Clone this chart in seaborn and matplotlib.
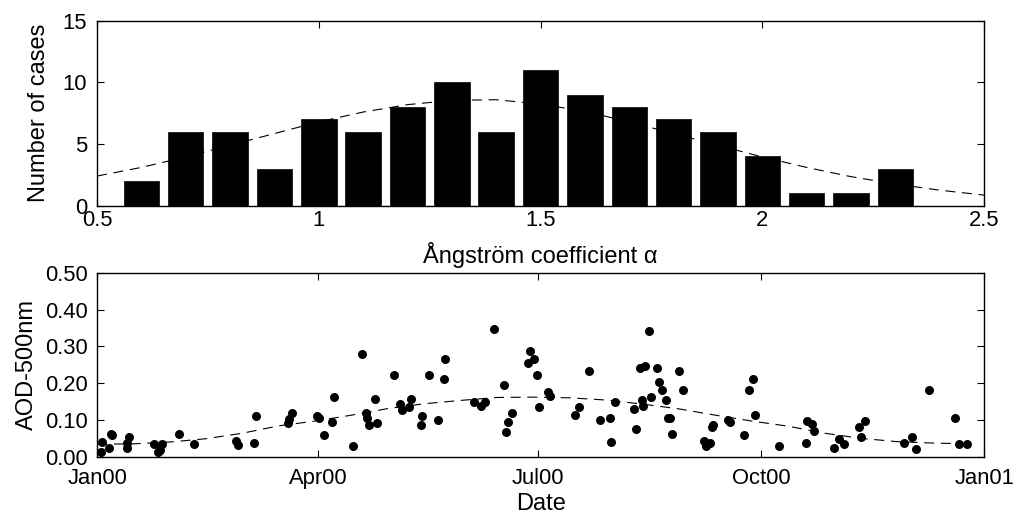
import matplotlib
matplotlib.use("Agg")
import matplotlib.pyplot as plt
import matplotlib.dates as mdates
import numpy as np
import pandas as pd
import seaborn as sns

# Histogram of the Angstrom coefficient (bin centres and counts)
alpha_centers = [0.6, 0.7, 0.8, 0.9, 1.0, 1.1, 1.2, 1.3, 1.4, 1.5, 1.6, 1.7, 1.8, 1.9, 2.0, 2.1, 2.2, 2.3]
alpha_counts = [2, 6, 6, 3, 7, 6, 8, 10, 6, 11, 9, 8, 7, 6, 4, 1, 1, 3]

# fitted curve over the histogram
fit_x = [0.5, 0.6, 0.7, 0.8, 0.9, 1.0, 1.1, 1.2, 1.3, 1.4, 1.5, 1.6, 1.7, 1.8, 1.9, 2.0, 2.1, 2.2, 2.3, 2.4, 2.5]
fit_y = [2.4, 3.1, 3.95, 4.9, 5.85, 6.8, 7.6, 8.2, 8.55, 8.6, 8.25, 7.65, 6.8, 5.85, 4.9, 3.95, 3.1, 2.35, 1.75, 1.25, 0.85]

# AOD at 500 nm, days since 1 Jan 2000
aod_day = [1.5, 2.1, 4.8, 5.7, 6.2, 12.1, 13.2, 12.4, 23.4, 26.6, 25.2, 25.8, 33.7, 40.0,
           57.1, 57.9, 64.8, 65.5, 78.6, 79.3, 80.2, 90.6, 91.5, 93.7, 96.7, 97.5, 105.4,
           109.2, 110.8, 111.5, 112.2, 115.4, 114.8, 122.6, 124.9, 125.6, 128.8, 129.5,
           134.2, 133.5, 136.7, 140.5, 142.9, 143.6, 155.3, 158.4, 160.0, 163.9, 167.7,
           171.0, 169.4, 168.6, 178.6, 177.6, 180.2, 181.5, 182.3, 185.9, 186.7, 197.3,
           198.9, 202.9, 207.6, 211.4, 212.2, 213.7, 221.5, 222.4, 223.9, 224.7, 225.4,
           226.2, 227.7, 228.5, 231.0, 231.7, 233.2, 234.9, 235.6, 236.4, 237.2, 240.2,
           241.8, 250.4, 251.2, 252.7, 253.5, 254.2, 260.4, 261.2, 266.7, 269.0, 270.5,
           271.4, 281.5, 292.4, 293.1, 295.0, 295.7, 304.2, 306.2, 308.1, 314.4, 315.3,
           316.8, 333.1, 336.3, 337.8, 343.2, 354.0, 355.6, 358.8]
aod_val = [0.014, 0.039, 0.025, 0.063, 0.058, 0.038, 0.053, 0.023, 0.034, 0.034, 0.012, 0.018,
           0.063, 0.034, 0.044, 0.032, 0.038, 0.111, 0.092, 0.102, 0.120, 0.111, 0.104, 0.058,
           0.095, 0.163, 0.029, 0.280, 0.119, 0.106, 0.087, 0.091, 0.157, 0.223, 0.143, 0.126,
           0.134, 0.157, 0.111, 0.087, 0.223, 0.100, 0.210, 0.266, 0.148, 0.138, 0.148, 0.347,
           0.196, 0.119, 0.095, 0.067, 0.286, 0.256, 0.266, 0.223, 0.135, 0.175, 0.166, 0.114,
           0.134, 0.233, 0.100, 0.105, 0.039, 0.148, 0.130, 0.076, 0.242, 0.153, 0.138, 0.247,
           0.342, 0.162, 0.242, 0.204, 0.181, 0.153, 0.105, 0.105, 0.063, 0.233, 0.181, 0.044,
           0.030, 0.038, 0.081, 0.086, 0.100, 0.095, 0.058, 0.181, 0.210, 0.114, 0.029, 0.038,
           0.096, 0.090, 0.071, 0.025, 0.048, 0.034, 0.081, 0.053, 0.096, 0.038, 0.053, 0.020,
           0.181, 0.105, 0.034, 0.034]

# seasonal curve
trend_day = [0, 15, 30, 45, 60, 75, 90, 105, 120, 135, 150, 165, 180, 195, 210, 225, 240,
             255, 270, 285, 300, 315, 330, 345, 360]
trend_val = [0.034, 0.035, 0.040, 0.049, 0.064, 0.084, 0.097, 0.113, 0.131, 0.144, 0.153,
             0.161, 0.162, 0.160, 0.154, 0.143, 0.130, 0.113, 0.097, 0.083, 0.064, 0.050,
             0.041, 0.037, 0.035]

x_ticks_top = [0.5, 1, 1.5, 2, 2.5]
x_ticklabels_top = ["0.5", "1", "1.5", "2", "2.5"]
y_ticks_top = [0, 5, 10, 15]
y_ticks_bot = [0.0, 0.1, 0.2, 0.3, 0.4, 0.5]

sns.set_theme(style="ticks")
plt.rcParams["font.family"] = ["Liberation Sans", "DejaVu Sans"]
plt.rcParams["axes.linewidth"] = 1.0
plt.rcParams["axes.labelcolor"] = "black"
plt.rcParams["text.color"] = "black"

t0 = pd.Timestamp("2000-01-01")
df_aod = pd.DataFrame({"date": t0 + pd.to_timedelta(aod_day, unit="D"), "aod": aod_val})
df_trend = pd.DataFrame({"date": t0 + pd.to_timedelta(trend_day, unit="D"), "aod": trend_val})

fig = plt.figure(figsize=(10.14, 5.16), dpi=100)
ax1 = fig.add_axes([0.0957, 0.6016, 0.8748, 0.3578])
ax2 = fig.add_axes([0.0960, 0.1149, 0.8745, 0.3566])

fs_lab = 17
fs_tick = 15.8

# top panel: histogram
sns.histplot(x=alpha_centers, weights=alpha_counts, binwidth=0.1, binrange=(0.55, 2.35),
             shrink=0.8, color="black", alpha=1, edgecolor="black", linewidth=0.5, ax=ax1)
sns.lineplot(x=fit_x, y=fit_y, color="black", linewidth=0.8, ax=ax1)
ax1.lines[-1].set_dashes((9, 6))
ax1.set_xlim(0.5, 2.5)
ax1.set_ylim(0, 15)
ax1.set_xticks(x_ticks_top)
ax1.set_xticklabels(x_ticklabels_top)
ax1.set_yticks(y_ticks_top)
ax1.set_xlabel("Ångström coefficient α", fontsize=fs_lab, labelpad=8)
ax1.set_ylabel("Number of cases", fontsize=fs_lab, labelpad=9)

# bottom panel: AOD time series
sns.scatterplot(data=df_aod, x="date", y="aod", color="black", s=42, edgecolor="black",
                linewidth=0, ax=ax2)
sns.lineplot(data=df_trend, x="date", y="aod", color="black", linewidth=0.8, ax=ax2)
ax2.lines[-1].set_dashes((9, 6))
ax2.set_xlim(pd.Timestamp("2000-01-01"), pd.Timestamp("2001-01-01"))
ax2.set_ylim(0, 0.5)
ax2.set_yticks(y_ticks_bot)
ax2.yaxis.set_major_formatter(matplotlib.ticker.FormatStrFormatter("%.2f"))
ax2.xaxis.set_major_locator(mdates.MonthLocator(bymonth=[1, 4, 7, 10]))
ax2.xaxis.set_major_formatter(mdates.DateFormatter("%b%y"))
ax2.set_xlabel("Date", fontsize=fs_lab, labelpad=3)
ax2.set_ylabel("AOD-500nm", fontsize=fs_lab, labelpad=5)

for ax in (ax1, ax2):
    ax.tick_params(axis="both", which="major", direction="in", top=True, right=True,
                   length=5, width=0.8, labelsize=fs_tick, colors="black")
    ax.tick_params(axis="y", pad=7)
    for sp in ax.spines.values():
        sp.set_visible(True)
        sp.set_color("black")
ax1.tick_params(axis="x", pad=3)
ax2.tick_params(axis="x", pad=8)

fig.savefig("out.png", dpi=100)
